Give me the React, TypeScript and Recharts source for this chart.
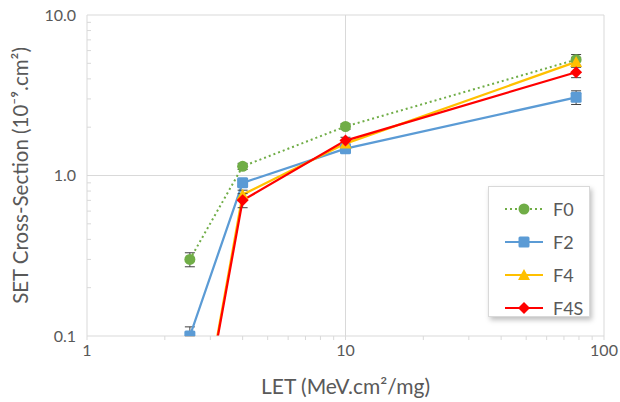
import React from 'react';
import { LineChart, Line, XAxis, YAxis, CartesianGrid, ErrorBar, Legend, Label } from 'recharts';

// LET values (MeV.cm2/mg)
const letValues = [2.5, 4, 10, 78];

// cross-section values (1e-9 cm2) and their error bars [minus, plus]
const f0 = [0.3, 1.14, 2.02, 5.27];
const f0Err = [[0.03, 0.03], [0.05, 0.05], [0.08, 0.08], [0.4, 0.4]];
const f2 = [0.1, 0.9, 1.47, 3.07];
const f2Err = [[0, 0.014], [0.04, 0.04], [0.06, 0.06], [0.3, 0.3]];
const f4 = [0.011, 0.76, 1.58, 5.1];
const f4Err = [[0.001, 0.001], [0.05, 0.05], [0.08, 0.08], [0.35, 0.35]];
const f4s = [0.011, 0.7, 1.65, 4.4];
const f4sErr = [[0.001, 0.001], [0.07, 0.07], [0.08, 0.08], [0.33, 0.33]];

const xTicks = [1, 2, 3, 4, 5, 6, 7, 8, 9, 10, 20, 30, 40, 50, 60, 70, 80, 90, 100];
const yTicks = [0.1, 0.2, 0.3, 0.4, 0.5, 0.6, 0.7, 0.8, 0.9, 1, 2, 3, 4, 5, 6, 7, 8, 9, 10];
const xMajor = [1, 10, 100];
const yMajor = [0.1, 1, 10];

const data = letValues.map((x, i) => ({
  x,
  F0: f0[i],
  F0err: f0Err[i],
  F2: f2[i],
  F2err: f2Err[i],
  F4: f4[i],
  F4err: f4Err[i],
  F4S: f4s[i],
  F4Serr: f4sErr[i],
}));

const FONT = 'Lato, "Open Sans", sans-serif';
const TEXT = '#595959';
const GRID = '#d9d9d9';

const colors = { F0: '#70ad47', F2: '#5b9bd5', F4: '#ffc000', F4S: '#ff0000' };

const isMajor = (v: number, majors: number[]) => majors.some((m) => Math.abs(m - v) < 1e-9);

const markerShape = (name: string, cx: number, cy: number, key?: string) => {
  const c = (colors as any)[name];
  if (name === 'F0') return <circle key={key} cx={cx} cy={cy} r={5.5} fill={c} />;
  if (name === 'F2') return <rect key={key} x={cx - 5.5} y={cy - 5.5} width={11} height={11} rx={1.5} fill={c} />;
  if (name === 'F4')
    return <polygon key={key} points={`${cx},${cy - 6} ${cx + 6},${cy + 5} ${cx - 6},${cy + 5}`} fill={c} />;
  return <polygon key={key} points={`${cx},${cy - 6} ${cx + 6},${cy} ${cx},${cy + 6} ${cx - 6},${cy}`} fill={c} />;
};

const makeDot = (name: string) => (props: any) => {
  const { cx, cy, index } = props;
  if (cx == null || cy == null) return <g key={`${name}-${index}`} />;
  return markerShape(name, cx, cy, `${name}-${index}`);
};

const XTick = (props: any) => {
  const { x, y, payload } = props;
  if (!isMajor(payload.value, xMajor)) return <g />;
  return (
    <text x={x} y={y} dy={14} textAnchor="middle" fill={TEXT} fontSize={16} fontFamily={FONT}>
      {payload.value}
    </text>
  );
};

const YTick = (props: any) => {
  const { x, y, payload } = props;
  if (!isMajor(payload.value, yMajor)) {
    return <line x1={x + 11} x2={x + 15} y1={y} y2={y} stroke={GRID} />;
  }
  return (
    <text x={x} y={y} dy={5.5} textAnchor="end" fill={TEXT} fontSize={16} fontFamily={FONT}>
      {Number(payload.value).toFixed(1)}
    </text>
  );
};

const LegendBox = () => (
  <div
    style={{
      width: 102,
      height: 131,
      background: '#fff',
      border: `1px solid ${GRID}`,
      boxShadow: '2px 3px 5px rgba(0,0,0,0.25)',
      boxSizing: 'border-box',
      paddingTop: 5,
      fontFamily: FONT,
    }}
  >
    {['F0', 'F2', 'F4', 'F4S'].map((name) => (
      <div key={name} style={{ display: 'flex', alignItems: 'center', height: 33 }}>
        <svg width={64} height={20} style={{ display: 'block' }}>
          <line
            x1={16}
            x2={54}
            y1={10}
            y2={10}
            stroke={(colors as any)[name]}
            strokeWidth={2}
            strokeDasharray={name === 'F0' ? '2 3' : undefined}
          />
          {markerShape(name, 35, 10)}
        </svg>
        <span style={{ fontSize: 18, color: TEXT }}>{name}</span>
      </div>
    ))}
  </div>
);

export default function App() {
  return (
    <div style={{ position: 'absolute', left: 0, top: 0, width: 620, height: 402, background: '#fff' }}>
      <LineChart width={620} height={402} data={data} margin={{ top: 15, right: 16, bottom: 4, left: 10 }}>
        <CartesianGrid
          stroke={GRID}
          horizontalValues={[1, 10]}
          verticalValues={[10, 100]}
        />
        <XAxis
          dataKey="x"
          type="number"
          scale="log"
          domain={[1, 100]}
          ticks={xTicks}
          interval={0}
          allowDataOverflow
          axisLine={{ stroke: GRID }}
          tickLine={{ stroke: GRID }}
          tickSize={4}
          tick={<XTick />}
          height={62}
        >
          <Label
            value="LET (MeV.cm²/mg)"
            position="insideBottom"
            offset={4}
            fill={TEXT}
            fontSize={21}
            fontFamily={FONT}
          />
        </XAxis>
        <YAxis
          type="number"
          scale="log"
          domain={[0.1, 10]}
          ticks={yTicks}
          interval={0}
          allowDataOverflow
          axisLine={{ stroke: GRID }}
          tickLine={false}
          tickSize={0}
          tickMargin={11}
          tick={<YTick />}
          width={77}
        >
          <Label
            value="SET Cross-Section (10⁻⁹.cm²)"
            angle={-90}
            position="insideLeft"
            offset={11}
            fill={TEXT}
            fontSize={20.5}
            fontFamily={FONT}
            style={{ textAnchor: 'middle' }}
          />
        </YAxis>
        <Legend
          layout="vertical"
          align="center"
          verticalAlign="middle"
          wrapperStyle={{ left: 488, top: 186, width: 102 }}
          content={() => <LegendBox />}
        />
        <Line
          dataKey="F0"
          stroke={colors.F0}
          strokeWidth={2}
          strokeDasharray="2 3"
          dot={makeDot('F0')}
          activeDot={false}
          isAnimationActive={false}
        >
          <ErrorBar dataKey="F0err" width={5} stroke="#404040" strokeWidth={1} direction="y" />
        </Line>
        <Line
          dataKey="F2"
          stroke={colors.F2}
          strokeWidth={2.25}
          dot={makeDot('F2')}
          activeDot={false}
          isAnimationActive={false}
        >
          <ErrorBar dataKey="F2err" width={5} stroke="#404040" strokeWidth={1} direction="y" />
        </Line>
        <Line
          dataKey="F4"
          stroke={colors.F4}
          strokeWidth={2.25}
          dot={makeDot('F4')}
          activeDot={false}
          isAnimationActive={false}
        >
          <ErrorBar dataKey="F4err" width={5} stroke="#404040" strokeWidth={1} direction="y" />
        </Line>
        <Line
          dataKey="F4S"
          stroke={colors.F4S}
          strokeWidth={2.25}
          dot={makeDot('F4S')}
          activeDot={false}
          isAnimationActive={false}
        >
          <ErrorBar dataKey="F4Serr" width={5} stroke="#404040" strokeWidth={1} direction="y" />
        </Line>
      </LineChart>
    </div>
  );
}
